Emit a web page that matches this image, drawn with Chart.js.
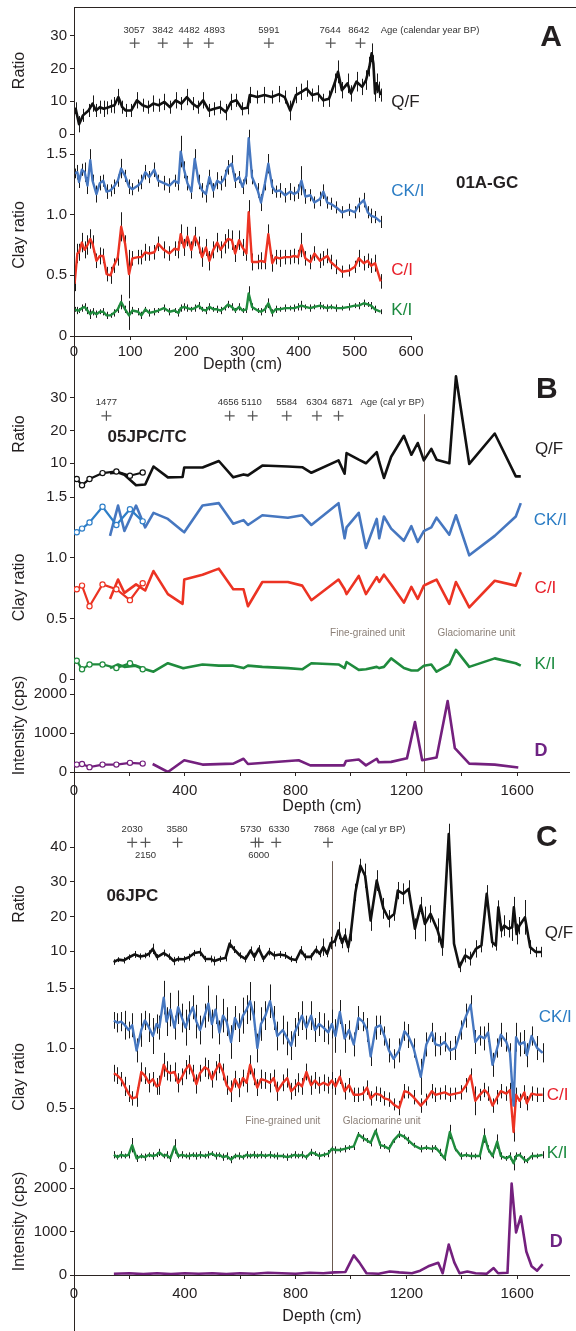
<!DOCTYPE html>
<html>
<head>
<meta charset="utf-8">
<script src="https://cdn.jsdelivr.net/npm/chart.js@4.4.0/dist/chart.umd.min.js"></script>
<style>
body { margin: 0; background: #fff; }
#wrap { position: relative; width: 576px; height: 1331px; overflow: hidden; }
#wrap canvas { position: absolute; left: 0; top: 0; }
</style>
</head>
<body>
<div id="wrap">
<canvas id="cA" width="576" height="1331"></canvas>
<canvas id="cB" width="576" height="1331"></canvas>
<canvas id="cC" width="576" height="1331"></canvas>
</div>
<script>
// ---------- tick values ----------
const ticksDepthA = [0,100,200,300,400,500,600];
const ticksDepthBC = [0,200,400,600,800,1000,1200,1400,1600];
const ticksRatioA = [0,10,20,30];
const ticksRatioB = [10,20,30];
const ticksRatioC = [10,20,30,40];
const ticksClay = [0,0.5,1,1.5];
const ticksIntensity = [0,1000,2000];

// ---------- panel A : 01A-GC ----------
const depthQfA = [0,3,9,16,26,33,39,46,53,59,66,72,79,86,92,102,112,122,132,141,151,161,171,181,191,201,211,220,230,240,250,260,270,280,289,299,309,313,326,339,352,365,375,385,395,405,414,424,434,444,454,464,470,477,487,493,503,513,520,526,530,533,536,539,543,546];
const qfA = [6.2,7.7,3,5.7,7.2, 9.3,7.2,8.2,7.7,8, 8.5,8.8,11.3,8.2,7.2, 7.2,10.3,8.8,8.2,9.3, 8.8,9.8,8.2,10.3,9.3, 11.3,9.3,8.2,10.3,7.2, 7.7,8.2,6.7,9.8,10.3, 7.7,8,11.9,11.3,11.9, 11.3,12.2,11.3,7.2,11.9, 12.9,13.9,11.9,12.4,10.3, 10.8,15.5,19,13.4,15.5, 12.4,16,14.4,16.5,20.6, 24.7,21.6,12.4,15.5,13.5, 11.9];
const qfErrA = [2,2,2.5,2,2, 2.5,2,2,2.5,2, 2,2.5,2.5,2,2, 2,2.5,2,2,2.5, 2,2.5,2,2.5,2, 2.5,2,2,2.5,2, 2,2,2.5,2.5,2, 2,2,2.5,2,2.5, 2,2.5,2,3,2.5, 2.5,2.5,2,2.5,2, 2.5,3,3.5,2.5,3, 2.5,3,2.5,3,3, 3,2.5,2.5,3,2.5, 2];

const depthClayA = [1,6,9,14,19,24,29,33,40,46,52,58,65,71,78,84,91,98,104,114,120,127,134,143,150,160,170,179,186,190,196,202,209,215,222,228,235,241,248,255,261,268,274,281,287,294,300,307,311,317,327,333,340,346,353,359,366,376,385,392,399,405,412,421,428,438,444,451,457,467,477,490,500,507,516,523,529,536,546];
const ckA = [1.34,1.35,1.27,1.37,1.35, 1.24,1.45,1.28,1.17,1.26, 1.28,1.19,1.20,1.23,1.28, 1.38,1.32,1.23,1.21,1.24, 1.27,1.35,1.31,1.37,1.28, 1.26,1.24,1.28,1.26,1.52, 1.37,1.26,1.19,1.46,1.27, 1.20,1.17,1.31,1.20,1.28, 1.26,1.30,1.39,1.42,1.28, 1.31,1.23,1.32,1.63,1.31, 1.20,1.10,1.26,1.42,1.23, 1.19,1.20,1.16,1.19,1.17, 1.19,1.28,1.15,1.16,1.10, 1.13,1.19,1.10,1.09,1.06, 1.02,1.04,1.02,1.08,1.12, 1.02,0.99,0.98,0.94];
const ciA = [0.43,0.68,0.69,0.77,0.71, 0.75,0.80,0.76,0.62,0.66, 0.66,0.51,0.50,0.58,0.65, 0.90,0.76,0.51,0.64,0.65, 0.65,0.69,0.68,0.69,0.76, 0.71,0.68,0.72,0.71,0.84, 0.73,0.82,0.71,0.82,0.75, 0.65,0.73,0.62,0.71,0.77, 0.71,0.76,0.80,0.79,0.68, 0.79,0.73,0.68,1.02,0.61, 0.61,0.62,0.61,0.84,0.60, 0.65,0.64,0.65,0.65,0.66, 0.65,0.75,0.64,0.61,0.68, 0.62,0.64,0.66,0.61,0.57, 0.53,0.54,0.57,0.64,0.60, 0.62,0.58,0.60,0.45];
const kiA = [0.22,0.21,0.21,0.23,0.24, 0.21,0.18,0.20,0.18,0.20, 0.20,0.17,0.17,0.19,0.22, 0.28,0.22,0.17,0.21,0.20, 0.17,0.22,0.19,0.20,0.21, 0.23,0.20,0.21,0.19,0.23, 0.24,0.23,0.22,0.23,0.25, 0.22,0.21,0.24,0.22,0.22, 0.21,0.23,0.26,0.24,0.21, 0.24,0.21,0.22,0.35,0.24, 0.21,0.20,0.22,0.27,0.19, 0.22,0.22,0.23,0.23,0.23, 0.24,0.25,0.24,0.23,0.24, 0.25,0.24,0.23,0.24,0.23, 0.23,0.24,0.25,0.25,0.27, 0.26,0.25,0.22,0.20];
const ckErrA = [0.04,0.06,0.05,0.05,0.08, 0.07,0.09,0.05,0.07,0.06, 0.05,0.06,0.05,0.06,0.05, 0.08,0.05,0.06,0.05,0.05, 0.06,0.06,0.05,0.06,0.05, 0.06,0.06,0.05,0.06,0.13, 0.07,0.06,0.06,0.08,0.06, 0.06,0.07,0.06,0.06,0.07, 0.06,0.07,0.06,0.07,0.06, 0.05,0.06,0.07,0.07,0.06, 0.06,0.07,0.06,0.08,0.06, 0.05,0.06,0.06,0.07,0.06, 0.06,0.12,0.06,0.05,0.05, 0.06,0.06,0.05,0.05,0.05, 0.05,0.05,0.05,0.06,0.06, 0.05,0.06,0.05,0.05];
const ciErrA = [0.06,0.08,0.07,0.08,0.07, 0.08,0.08,0.07,0.06,0.07, 0.06,0.06,0.07,0.06,0.07, 0.12,0.07,0.2,0.06,0.06, 0.06,0.07,0.06,0.06,0.06, 0.07,0.06,0.06,0.07,0.08, 0.07,0.08,0.07,0.08,0.07, 0.08,0.07,0.08,0.07,0.08, 0.07,0.08,0.08,0.08,0.07, 0.08,0.07,0.06,0.1,0.07, 0.06,0.07,0.06,0.08,0.07, 0.06,0.07,0.06,0.06,0.06, 0.06,0.1,0.06,0.06,0.06, 0.06,0.06,0.06,0.06,0.06, 0.05,0.05,0.05,0.07,0.06, 0.06,0.06,0.07,0.06];
const kiErrA = [0.02,0.03,0.02,0.03,0.03, 0.03,0.04,0.03,0.03,0.02, 0.03,0.03,0.02,0.03,0.03, 0.06,0.03,0.12,0.03,0.03, 0.03,0.02,0.03,0.03,0.02, 0.03,0.03,0.02,0.03,0.03, 0.03,0.03,0.02,0.03,0.03, 0.02,0.03,0.03,0.02,0.03, 0.03,0.02,0.03,0.03,0.02, 0.03,0.02,0.03,0.06,0.03, 0.02,0.03,0.03,0.04,0.03, 0.03,0.02,0.03,0.02,0.03, 0.03,0.04,0.02,0.03,0.02, 0.03,0.02,0.03,0.02,0.03, 0.02,0.03,0.02,0.03,0.03, 0.02,0.03,0.03,0.02];

const ageDepthA = [108,158,203,240,347,457,510];
const ageLabelDepthA = [107,158,205,250,347,456,507];
const ageTextA = ['3057','3842','4482','4893','5991','7644','8642'];

// ---------- panel B : 05JPC/TC ----------
const tcDepthB = [10,29,56,103,153,202,248];
const tcQfB = [5.2,3.3,5.2,7.0,7.5,6.2,7.2];
const tcCkB = [1.21,1.24,1.29,1.42,1.27,1.40,1.30];
const tcCiB = [0.74,0.77,0.60,0.78,0.74,0.65,0.79];
const tcKiB = [0.15,0.08,0.12,0.12,0.09,0.13,0.08];
const tcDB = [190,205,125,190,190,235,215];

const jpcDepthB = [130,159,182,224,257,287,339,392,398,464,523,575,612,628,680,772,824,857,955,977,984,1028,1054,1093,1102,1119,1145,1191,1218,1241,1263,1290,1309,1355,1379,1427,1519,1595,1613];
const jpcQfB = [7.0,7.2,6.5,3.3,3.5,9.0,5.7,5.8,8.7,8.7,10.7,5.7,6.6,6.3,9.3,9.0,8.8,7.1,10.9,6.8,13.1,11.1,10.0,13.4,10.4,5.5,12.0,18.4,12.6,16.2,10.9,14.4,11.1,10.0,36.6,9.8,19.1,6.0,6.0];
const jpcCkB = [1.18,1.43,1.22,1.43,1.25,1.37,1.32,1.22,1.21,1.43,1.45,1.28,1.31,1.27,1.35,1.33,1.35,1.27,1.45,1.16,1.25,1.37,1.08,1.32,1.16,1.34,1.24,1.14,1.26,1.13,1.22,1.25,1.33,1.19,1.35,1.02,1.18,1.34,1.45];
const jpcCiB = [0.66,0.82,0.71,0.78,0.73,0.89,0.70,0.62,0.82,0.86,0.91,0.74,0.74,0.60,0.80,0.80,0.77,0.65,0.82,0.74,0.70,0.85,0.70,0.84,0.80,0.86,0.78,0.63,0.76,0.66,0.77,0.80,0.82,0.62,0.80,0.59,0.81,0.77,0.88];
const jpcKiB = [0.09,0.12,0.10,0.11,0.08,0.06,0.13,0.09,0.09,0.12,0.11,0.11,0.09,0.11,0.10,0.09,0.08,0.13,0.12,0.09,0.14,0.075,0.08,0.10,0.09,0.10,0.17,0.09,0.07,0.07,0.11,0.12,0.06,0.12,0.24,0.10,0.17,0.13,0.11];
const dDepthB = [284,339,398,464,575,612,628,811,853,975,982,1028,1054,1093,1100,1145,1202,1231,1257,1309,1349,1375,1427,1519,1604];
const dB = [205,0,300,190,215,340,205,300,170,170,280,320,170,340,250,260,350,1280,300,370,1820,610,215,190,115];

const ageDepthB = [117,562,645,768,877,955];
const ageLabelDepthB = [117,557,641,768,877,968];
const ageTextB = ['1477','4656','5110','5584','6304','6871'];

// ---------- panel C : 06JPC ----------
const depthQfC = [143,160,180,199,219,239,258,271,284,300,324,343,360,376,396,415,435,455,474,494,507,527,547,562,579,599,619,638,651,667,684,704,723,743,763,782,802,819,835,855,874,887,900,914,927,942,955,968,979,990,999,1016,1034,1051,1071,1093,1117,1136,1156,1169,1189,1208,1231,1252,1267,1287,1313,1330,1353,1372,1392,1412,1431,1451,1471,1490,1510,1523,1532,1543,1553,1569,1582,1588,1598,1608,1628,1647,1667,1687];
const qfC = [6.9,7.6,7.4,8.3,9.1, 8.5,8.8,9.3,10.7,8.3, 9.5,8.5,7.2,7.8,7.7, 8.3,9.5,9.8,7.8,7.8, 7.2,7.8,8.1,12.2,10.5, 8.8,7.8,10.3,8.4,10.8, 7.8,9.9,8.8,9.1,8.8, 7.8,7.5,10.3,8.4,8.4, 10.5,9.3,11.2,9.3,12.4, 12.9,16.0,12.4,14.6,11.2, 14.9,27.0,34.7,31.8,18.9, 30.4,22.4,19.4,20.8,27.5, 26.6,28.0,16.5,23.2,17.9, 20.8,16.0,11.2,43.8,12.2, 5.5,8.8,7.9,10.7,11.7, 26.6,12.6,11.7,22.7,16.0, 17.4,16.5,17.0,22.7,15.0, 17.4,19.8,11.2,9.8,9.8];
const qfErrC = [0.8,0.7,0.9,0.8,1.0, 0.9,0.8,1.0,1.5,0.9, 1.0,0.9,1.2,0.8,0.9, 1.0,0.9,1.2,0.9,1.0, 1.3,0.9,1.0,1.2,1.0, 0.9,1.0,1.1,1.2,1.0, 0.9,1.1,1.2,1.0,1.0, 0.9,0.9,1.2,1.0,1.0, 1.1,1.0,2.5,1.0,1.8, 1.5,2.5,1.5,2.0,1.5, 2.0,2.5,2.0,3.5,3.0, 3.0,3.0,2.5,2.0,2.5, 3.0,2.5,3.0,2.5,5.0, 2.5,3.5,2.5,3.0,1.5, 1.5,2.0,2.0,2.5,2.0, 2.5,1.5,1.5,2.0,2.0, 3.0,2.5,4.0,3.0,3.0, 2.5,5.0,2.0,1.5,1.5];

const depthClayC = [144,157,170,184,197,210,226,243,256,271,285,298,308,324,334,348,363,376,390,403,416,429,442,455,472,485,498,511,525,538,551,567,581,597,610,623,636,649,662,675,691,708,721,734,754,770,784,797,810,823,839,856,870,885,901,918,931,944,960,977,993,1010,1027,1043,1058,1071,1089,1106,1121,1137,1154,1174,1193,1207,1226,1252,1272,1292,1305,1321,1338,1357,1377,1397,1416,1432,1449,1465,1482,1495,1511,1528,1541,1561,1574,1587,1596,1609,1626,1635,1652,1672,1692];
const ckC = [1.23,1.21,1.22,1.19,1.15, 1.19,0.98,1.15,1.23,1.17, 1.10,1.20,1.17,1.42,1.22, 1.32,1.17,1.34,1.25,1.17, 1.27,1.34,1.22,1.15,1.27, 1.37,1.20,1.32,1.13,1.27, 1.22,1.05,1.25,1.17,1.27, 1.32,1.39,1.27,1.00,1.20, 1.27,1.39,1.25,1.10,1.15, 1.08,1.02,1.13,1.20,1.27, 1.17,1.27,1.15,1.20,1.17, 1.13,1.20,1.10,1.30,1.08, 1.15,1.03,1.25,1.22,1.15, 0.93,1.17,1.19,1.10,0.98, 0.91,0.98,1.14,1.10,1.00, 0.76,1.03,1.13,1.03,1.02, 1.05,0.98,1.00,1.15,1.27, 1.36,1.05,1.10,1.08,1.13, 0.86,1.00,1.11,1.05,0.96, 0.52,1.09,1.03,1.05,0.94, 1.10,1.00,0.96];
const ciC = [0.79,0.77,0.74,0.68,0.62, 0.58,0.59,0.80,0.77,0.71, 0.74,0.68,0.69,0.86,0.81, 0.79,0.80,0.71,0.76,0.82, 0.86,0.79,0.70,0.79,0.84, 0.82,0.74,0.81,0.87,0.80, 0.69,0.64,0.74,0.67,0.75, 0.71,0.86,0.76,0.67,0.74, 0.73,0.71,0.75,0.64,0.71, 0.75,0.64,0.67,0.71,0.68, 0.80,0.69,0.73,0.69,0.71, 0.69,0.73,0.68,0.76,0.64, 0.69,0.61,0.61,0.62,0.67, 0.58,0.62,0.61,0.58,0.57, 0.53,0.50,0.64,0.63,0.59, 0.52,0.57,0.64,0.61,0.62, 0.63,0.61,0.62,0.63,0.69, 0.77,0.56,0.61,0.65,0.62, 0.52,0.59,0.64,0.62,0.65, 0.30,0.61,0.56,0.63,0.54, 0.62,0.61,0.61];
const kiC = [0.11,0.09,0.11,0.10,0.11, 0.19,0.08,0.10,0.09,0.11, 0.10,0.11,0.13,0.10,0.11, 0.08,0.18,0.10,0.11,0.10, 0.10,0.11,0.10,0.11,0.10, 0.11,0.12,0.10,0.11,0.09, 0.10,0.07,0.10,0.10,0.09, 0.11,0.10,0.11,0.10,0.11, 0.10,0.11,0.10,0.10,0.10, 0.09,0.10,0.11,0.10,0.11, 0.09,0.13,0.12,0.10,0.11, 0.12,0.16,0.15,0.15,0.16, 0.17,0.18,0.28,0.25,0.23, 0.21,0.31,0.19,0.18,0.16, 0.23,0.28,0.26,0.23,0.19, 0.16,0.17,0.16,0.17,0.13, 0.08,0.30,0.16,0.10,0.11, 0.10,0.10,0.10,0.27,0.16, 0.10,0.22,0.10,0.08,0.10, 0.04,0.10,0.11,0.07,0.06, 0.10,0.10,0.11];
const ckErrC = [0.07,0.08,0.08,0.12,0.07, 0.1,0.1,0.14,0.08,0.12, 0.15,0.08,0.1,0.14,0.12, 0.14,0.1,0.14,0.12,0.15, 0.12,0.1,0.14,0.12,0.1, 0.15,0.12,0.12,0.1,0.14, 0.12,0.14,0.1,0.12,0.15, 0.12,0.16,0.12,0.12,0.14, 0.12,0.14,0.1,0.12,0.12, 0.14,0.12,0.12,0.1,0.12, 0.1,0.12,0.1,0.1,0.12, 0.1,0.12,0.14,0.1,0.12, 0.08,0.1,0.1,0.08,0.1, 0.08,0.1,0.08,0.08,0.1, 0.08,0.1,0.08,0.1,0.08, 0.15,0.1,0.08,0.1,0.08, 0.08,0.08,0.1,0.08,0.1, 0.08,0.1,0.08,0.1,0.08, 0.1,0.08,0.1,0.08,0.08, 0.2,0.12,0.1,0.1,0.1, 0.08,0.1,0.08];
const ciErrC = [0.07,0.07,0.06,0.08,0.07, 0.06,0.08,0.08,0.07,0.08, 0.06,0.07,0.08,0.1,0.08, 0.07,0.08,0.08,0.07,0.08, 0.08,0.07,0.08,0.07,0.08, 0.08,0.07,0.08,0.08,0.07, 0.08,0.09,0.07,0.08,0.07, 0.08,0.08,0.07,0.07,0.08, 0.07,0.08,0.07,0.08,0.07, 0.08,0.07,0.07,0.08,0.07, 0.07,0.08,0.07,0.07,0.07, 0.07,0.07,0.07,0.06,0.07, 0.06,0.06,0.06,0.06,0.06, 0.06,0.06,0.06,0.06,0.06, 0.05,0.06,0.06,0.05,0.06, 0.06,0.05,0.06,0.06,0.05, 0.06,0.06,0.05,0.06,0.06, 0.06,0.12,0.05,0.06,0.06, 0.06,0.06,0.06,0.06,0.06, 0.08,0.06,0.06,0.06,0.06, 0.06,0.06,0.06];
const kiErrC = [0.03,0.02,0.03,0.02,0.03, 0.06,0.03,0.02,0.03,0.02, 0.03,0.02,0.03,0.02,0.03, 0.03,0.06,0.02,0.03,0.02, 0.03,0.02,0.03,0.03,0.02, 0.03,0.02,0.03,0.02,0.03, 0.03,0.03,0.02,0.03,0.02, 0.03,0.02,0.03,0.02,0.03, 0.02,0.03,0.02,0.03,0.02, 0.03,0.02,0.03,0.02,0.03, 0.02,0.03,0.02,0.03,0.02, 0.03,0.02,0.03,0.02,0.03, 0.02,0.03,0.02,0.03,0.02, 0.03,0.02,0.03,0.02,0.03, 0.02,0.03,0.02,0.03,0.02, 0.03,0.02,0.03,0.02,0.03, 0.02,0.06,0.02,0.03,0.02, 0.03,0.02,0.03,0.06,0.03, 0.02,0.06,0.03,0.02,0.03, 0.06,0.03,0.02,0.03,0.02, 0.03,0.02,0.03];

const dDepthC = [144,200,250,300,350,400,450,500,550,600,650,700,750,800,850,900,940,980,1010,1030,1056,1100,1140,1174,1220,1250,1279,1315,1331,1353,1373,1392,1420,1450,1490,1515,1531,1565,1580,1596,1613,1633,1652,1672,1692];
const dC = [30,40,20,40,20,40,30,40,20,40,30,50,40,30,50,40,60,70,450,290,40,30,80,60,40,100,200,280,40,700,290,40,80,40,30,160,40,50,2100,980,1350,540,200,100,250];

const ageDepthC = [210,258,374,655,667,730,917];
const ageLabelDepthC = [210,258,372,638,667,740,903];
const ageTextC = ['2030','2150','3580','5730','6000','6330','7868'];
const ageBelowC = ['2150','6000'];

// ---------- styling ----------
const F = '"Liberation Sans", Arial, Helvetica, sans-serif';
const INK = '#231f20';
const AXIS = '#2b2422';
const BLACK = '#111111', BLUE = '#4677c0', RED = '#ec3323', GREEN = '#1f8b3d', PURPLE = '#74207e';

function pts(xs, ys) { return xs.map(function (x, i) { return {x: x, y: ys[i]}; }); }

function series(xs, ys, color, axis, errs, width) {
  return {
    data: pts(xs, ys), borderColor: color, backgroundColor: color,
    borderWidth: width || 2.4, pointRadius: 0, tension: 0,
    borderJoinStyle: 'round', yAxisID: axis, errors: errs || null
  };
}
function tcSeries(xs, ys, color, axis) {
  return {
    data: pts(xs, ys), borderColor: color, backgroundColor: '#fff',
    borderWidth: 2.2, pointRadius: 2.6, pointBorderWidth: 1.2,
    pointBackgroundColor: '#fff', pointBorderColor: color, tension: 0, yAxisID: axis
  };
}
function crosses(xs, y, axis) {
  return {
    data: xs.map(function (x) { return {x: x, y: y}; }), showLine: false,
    pointStyle: 'cross', pointRadius: 5, pointBorderWidth: 1.2,
    pointBorderColor: '#555', pointBackgroundColor: '#555', yAxisID: axis
  };
}

function fmtClay(v) { return v === 0 ? '0' : v.toFixed(1); }
function fmtPlain(v) { return String(v); }
function setTicks(list) {
  return function (s) { s.ticks = list.map(function (v) { return {value: v}; }); };
}

function yAxis(weight, stackWeight, max, tickList, title, cb) {
  return {
    type: 'linear', position: 'left', stack: 'v', stackWeight: stackWeight, weight: weight,
    min: 0, max: max,
    border: {display: true, color: AXIS, width: 1},
    grid: {display: true, drawOnChartArea: false, drawTicks: true, tickLength: 4, color: AXIS},
    ticks: {padding: 3, color: INK, font: {family: F, size: 15}, callback: cb},
    title: {display: true, text: title, color: INK, font: {family: F, size: 16}, padding: {top: 10, bottom: 0}},
    afterBuildTicks: setTicks(tickList),
    afterFit: function (s) { s.width = 74; s.paddingTop = 0; s.paddingBottom = 0; }
  };
}
function xAxis(max, tickList, labelEvery, height, pad) {
  return {
    type: 'linear', position: 'bottom', min: 0, max: max,
    border: {display: true, color: AXIS, width: 1},
    grid: {display: true, drawOnChartArea: false, drawTicks: true, tickLength: 4, color: AXIS},
    ticks: {autoSkip: false, maxRotation: 0, padding: pad, color: INK, font: {family: F, size: 15},
      callback: function (v) { return v % labelEvery === 0 ? String(v) : ''; }},
    title: {display: true, text: 'Depth (cm)', color: INK, font: {family: F, size: 16}, padding: {top: 0, bottom: 4}},
    afterBuildTicks: setTicks(tickList),
    afterFit: function (s) { s.height = height; s.paddingLeft = 0; s.paddingRight = 0; }
  };
}

// plugin: error bars, unit boundary, frame lines and text notes
function deco(o) {
  return {
    id: 'deco',
    beforeDatasetsDraw: function (chart) {
      const ctx = chart.ctx, xs = chart.scales.x, area = chart.chartArea;
      ctx.save();
      if (o.unit) {
        const ux = Math.round(xs.getPixelForValue(o.unit.x)) + 0.5;
        ctx.strokeStyle = '#6b5a50'; ctx.lineWidth = 1;
        ctx.beginPath();
        ctx.moveTo(ux, chart.scales[o.unit.ax].getPixelForValue(o.unit.top));
        ctx.lineTo(ux, area.bottom);
        ctx.stroke();
      }
      ctx.strokeStyle = '#1a1a1a'; ctx.lineWidth = 1;
      chart.data.datasets.forEach(function (ds) {
        if (!ds.errors) return;
        const ys = chart.scales[ds.yAxisID];
        ds.data.forEach(function (p, j) {
          const e = ds.errors[j];
          if (e == null) return;
          const px = Math.round(xs.getPixelForValue(p.x)) + 0.5;
          ctx.beginPath();
          ctx.moveTo(px, ys.getPixelForValue(p.y - e));
          ctx.lineTo(px, ys.getPixelForValue(p.y + e));
          ctx.stroke();
        });
      });
      ctx.restore();
    },
    afterDraw: function (chart) {
      const ctx = chart.ctx, xs = chart.scales.x, area = chart.chartArea;
      ctx.save();
      if (o.frame) {
        ctx.strokeStyle = AXIS; ctx.lineWidth = 1;
        ctx.beginPath();
        ctx.moveTo(area.left + 0.5, chart.height);
        ctx.lineTo(area.left + 0.5, area.top + 0.5);
        ctx.lineTo(chart.width, area.top + 0.5);
        ctx.stroke();
      }
      o.texts.forEach(function (n) {
        ctx.font = n.font;
        ctx.fillStyle = n.color || INK;
        ctx.textAlign = n.align || 'left';
        ctx.textBaseline = 'middle';
        ctx.fillText(n.t, xs.getPixelForValue(n.x), chart.scales[n.ax].getPixelForValue(n.y));
      });
      ctx.restore();
    }
  };
}

function ageNotes(depths, labels, y, yBelow, below) {
  return depths.map(function (d, i) {
    const low = below && below.indexOf(labels[i]) >= 0;
    return {t: labels[i], x: d, y: low ? yBelow : y, ax: 'yR', font: '9.5px ' + F, color: '#333', align: 'center'};
  });
}

const baseOpts = {
  responsive: false, animation: false, events: [],
  plugins: {legend: {display: false}, tooltip: {enabled: false}}
};

// ---------- chart A ----------
new Chart(document.getElementById('cA'), {
  type: 'line',
  data: {datasets: [
    crosses(ageDepthA, 27.8, 'yR'),
    series(depthQfA, qfA, BLACK, 'yR', qfErrA, 2.6),
    series(depthClayA, ckA, BLUE, 'yC', ckErrA),
    series(depthClayA, ciA, RED, 'yC', ciErrA),
    series(depthClayA, kiA, GREEN, 'yC', kiErrA)
  ]},
  options: Object.assign({}, baseOpts, {
    layout: {padding: {top: 7, bottom: 953, left: 0, right: 165}},
    scales: {
      x: xAxis(600, ticksDepthA, 100, 42, 3),
      yR: yAxis(3, 127, 38.84, ticksRatioA, 'Ratio', fmtPlain),
      yC: yAxis(2, 202, 1.665, ticksClay, 'Clay ratio', fmtClay)
    }
  }),
  plugins: [deco({
    frame: true,
    texts: ageNotes(ageLabelDepthA, ageTextA, 31.6).concat([
      {t: 'Age (calendar year BP)', x: 546, y: 31.6, ax: 'yR', font: '9.5px ' + F, color: '#333'},
      {t: 'A', x: 830, y: 29.5, ax: 'yR', font: 'bold 30px ' + F},
      {t: '01A-GC', x: 680, y: 1.255, ax: 'yC', font: 'bold 17px ' + F},
      {t: 'Q/F', x: 565, y: 9.8, ax: 'yR', font: '17px ' + F},
      {t: 'CK/I', x: 565, y: 1.19, ax: 'yC', font: '17px ' + F, color: '#2a7cc4'},
      {t: 'C/I', x: 565, y: 0.54, ax: 'yC', font: '17px ' + F, color: '#e8202a'},
      {t: 'K/I', x: 565, y: 0.21, ax: 'yC', font: '17px ' + F, color: '#1b8a3f'}
    ])
  })]
});

// ---------- chart B ----------
new Chart(document.getElementById('cB'), {
  type: 'line',
  data: {datasets: [
    crosses(ageDepthB, 24.5, 'yR'),
    tcSeries(tcDepthB, tcQfB, BLACK, 'yR'),
    tcSeries(tcDepthB, tcCkB, '#2f7fc8', 'yC'),
    tcSeries(tcDepthB, tcCiB, RED, 'yC'),
    tcSeries(tcDepthB, tcKiB, GREEN, 'yC'),
    tcSeries(tcDepthB, tcDB, PURPLE, 'yI'),
    series(jpcDepthB, jpcQfB, BLACK, 'yR', null, 2.6),
    series(jpcDepthB, jpcCkB, BLUE, 'yC', null, 2.6),
    series(jpcDepthB, jpcCiB, RED, 'yC', null, 2.6),
    series(jpcDepthB, jpcKiB, GREEN, 'yC', null, 2.6),
    series(dDepthB, dB, PURPLE, 'yI', null, 2.6)
  ]},
  options: Object.assign({}, baseOpts, {
    layout: {padding: {top: 372, bottom: 511, left: 0, right: 0}},
    scales: {
      x: xAxis(1790, ticksDepthBC, 400, 48, 6),
      yR: yAxis(3, 124, 37.9, ticksRatioB, 'Ratio', fmtPlain),
      yC: yAxis(2, 183, 1.509, ticksClay, 'Clay ratio', fmtClay),
      yI: yAxis(1, 93, 2385, ticksIntensity, 'Intensity (cps)', fmtPlain)
    }
  }),
  plugins: [deco({
    unit: {x: 1263, top: 25, ax: 'yR'},
    texts: ageNotes(ageLabelDepthB, ageTextB, 28.6).concat([
      {t: 'Age (cal yr BP)', x: 1034, y: 28.6, ax: 'yR', font: '9.5px ' + F, color: '#333'},
      {t: 'B', x: 1668, y: 32.5, ax: 'yR', font: 'bold 30px ' + F},
      {t: '05JPC/TC', x: 121, y: 18, ax: 'yR', font: 'bold 17px ' + F},
      {t: 'Q/F', x: 1664, y: 14.2, ax: 'yR', font: '17px ' + F},
      {t: 'CK/I', x: 1660, y: 1.31, ax: 'yC', font: '17px ' + F, color: '#2a7cc4'},
      {t: 'C/I', x: 1663, y: 0.75, ax: 'yC', font: '17px ' + F, color: '#e8202a'},
      {t: 'K/I', x: 1663, y: 0.12, ax: 'yC', font: '17px ' + F, color: '#1b8a3f'},
      {t: 'D', x: 1663, y: 550, ax: 'yI', font: 'bold 18px ' + F, color: '#6e2383'},
      {t: 'Fine-grained unit', x: 1060, y: 0.38, ax: 'yC', font: '10px ' + F, color: '#8c8078', align: 'center'},
      {t: 'Glaciomarine unit', x: 1453, y: 0.38, ax: 'yC', font: '10px ' + F, color: '#8c8078', align: 'center'}
    ])
  })]
});

// ---------- chart C ----------
new Chart(document.getElementById('cC'), {
  type: 'line',
  data: {datasets: [
    crosses(ageDepthC, 41.4, 'yR'),
    series(depthQfC, qfC, BLACK, 'yR', qfErrC, 2.6),
    series(depthClayC, ckC, BLUE, 'yC', ckErrC),
    series(depthClayC, ciC, RED, 'yC', ciErrC),
    series(depthClayC, kiC, GREEN, 'yC', kiErrC),
    series(dDepthC, dC, PURPLE, 'yI', null, 2.6)
  ]},
  options: Object.assign({}, baseOpts, {
    layout: {padding: {top: 822, bottom: 1, left: 0, right: 0}},
    scales: {
      x: xAxis(1790, ticksDepthBC, 400, 55, 6),
      yR: yAxis(3, 164, 47.3, ticksRatioC, 'Ratio', fmtPlain),
      yC: yAxis(2, 182, 1.517, ticksClay, 'Clay ratio', fmtClay),
      yI: yAxis(1, 107, 2460, ticksIntensity, 'Intensity (cps)', fmtPlain)
    }
  }),
  plugins: [deco({
    unit: {x: 933, top: 36, ax: 'yR'},
    texts: ageNotes(ageLabelDepthC, ageTextC, 45.2, 37.6, ageBelowC).concat([
      {t: 'Age (cal yr BP)', x: 966, y: 45.2, ax: 'yR', font: '9.5px ' + F, color: '#333'},
      {t: 'C', x: 1668, y: 42.9, ax: 'yR', font: 'bold 30px ' + F},
      {t: '06JPC', x: 117, y: 26, ax: 'yR', font: 'bold 17px ' + F},
      {t: 'Q/F', x: 1700, y: 15.3, ax: 'yR', font: '17px ' + F},
      {t: 'CK/I', x: 1678, y: 1.26, ax: 'yC', font: '17px ' + F, color: '#2a7cc4'},
      {t: 'C/I', x: 1707, y: 0.606, ax: 'yC', font: '17px ' + F, color: '#e8202a'},
      {t: 'K/I', x: 1707, y: 0.125, ax: 'yC', font: '17px ' + F, color: '#1b8a3f'},
      {t: 'D', x: 1718, y: 750, ax: 'yI', font: 'bold 18px ' + F, color: '#6e2383'},
      {t: 'Fine-grained unit', x: 754, y: 0.39, ax: 'yC', font: '10px ' + F, color: '#8c8078', align: 'center'},
      {t: 'Glaciomarine unit', x: 1111, y: 0.39, ax: 'yC', font: '10px ' + F, color: '#8c8078', align: 'center'}
    ])
  })]
});
</script>
</body>
</html>
